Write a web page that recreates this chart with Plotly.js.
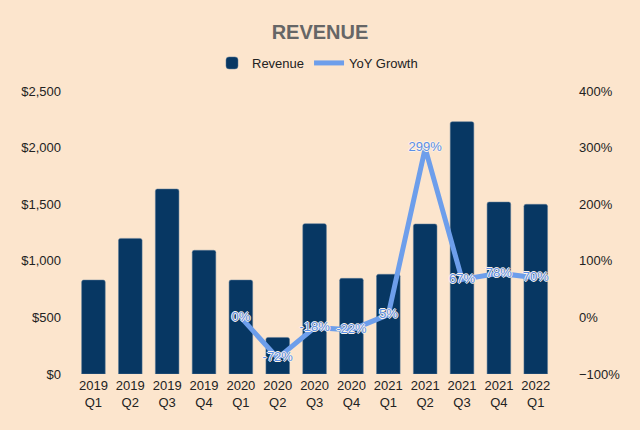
<!DOCTYPE html>
<html>
<head>
<meta charset="utf-8">
<script src="https://cdn.plot.ly/plotly-3.0.1.min.js"></script>
<style>html,body{margin:0;padding:0;background:#fce5cd;}#chart{width:640px;height:430px;}</style>
</head>
<body>
<div id="chart"></div>
<script>
var quarters = ["2019<br>Q1","2019<br>Q2","2019<br>Q3","2019<br>Q4","2020<br>Q1","2020<br>Q2","2020<br>Q3","2020<br>Q4","2021<br>Q1","2021<br>Q2","2021<br>Q3","2021<br>Q4","2022<br>Q1"];
var revenue = [830, 1198, 1634, 1093, 830, 323, 1328, 845, 881, 1325, 2229, 1519, 1499];
var growthQuarters = ["2020<br>Q1","2020<br>Q2","2020<br>Q3","2020<br>Q4","2021<br>Q1","2021<br>Q2","2021<br>Q3","2021<br>Q4","2022<br>Q1"];
var growth = [0, -72, -18, -22, 5, 299, 67, 78, 70];
var growthLabels = growth.map(function(v){ return v + "%"; });

var font = "Liberation Sans, Arial, sans-serif";
var shadow = "1px 0 0 #fdf3e8, -1px 0 0 #fdf3e8, 0 1px 0 #fdf3e8, 0 -1px 0 #fdf3e8";

var traces = [
  {
    type: "bar", name: "Revenue", x: quarters, y: revenue,
    marker: {color: "#073763", line: {color: "#5a7a99", width: 0.5}, cornerradius: 2},
    hoverinfo: "none"
  },
  {
    type: "scatter", mode: "lines+text", name: "YoY Growth",
    x: growthQuarters, y: growth, yaxis: "y2",
    line: {color: "#6d9eeb", width: 5},
    text: growthLabels, textposition: "middle center",
    textfont: {family: font, size: 13, color: "#5b8fe6", shadow: shadow},
    hoverinfo: "none", cliponaxis: false
  }
];

var layout = {
  width: 640, height: 430,
  paper_bgcolor: "#fce5cd", plot_bgcolor: "#fce5cd",
  margin: {l: 75, r: 80, t: 91, b: 56},
  font: {family: font, size: 12, color: "#222222"},
  title: {text: "<b>REVENUE</b>", x: 0.5, xanchor: "center", y: 0.925, yanchor: "middle",
          font: {family: font, size: 20, color: "#666666"}},
  showlegend: true,
  legend: {orientation: "h", x: 0.5, xanchor: "center", y: 1.099, yanchor: "middle",
           font: {family: font, size: 13, color: "#222222"}, bgcolor: "rgba(0,0,0,0)"},
  bargap: 0.36,
  xaxis: {type: "category", showgrid: false, zeroline: false, showline: false,
          ticks: "", tickfont: {size: 13, color: "#222222"}, ticklabelstandoff: 2, fixedrange: true},
  yaxis: {range: [0, 2500], dtick: 500, tickprefix: "$", separatethousands: true, tickformat: ",d",
          showgrid: false, zeroline: false, showline: false, ticks: "",
          tickfont: {size: 13, color: "#222222"}, ticklabelstandoff: 13},
  yaxis2: {overlaying: "y", side: "right", range: [-100, 400], dtick: 100, ticksuffix: "%",
           showgrid: false, zeroline: false, showline: false, ticks: "",
           tickfont: {size: 13, color: "#222222"}, ticklabelstandoff: 18}
};

Plotly.newPlot("chart", traces, layout, {displayModeBar: false, staticPlot: true});
</script>
</body>
</html>
